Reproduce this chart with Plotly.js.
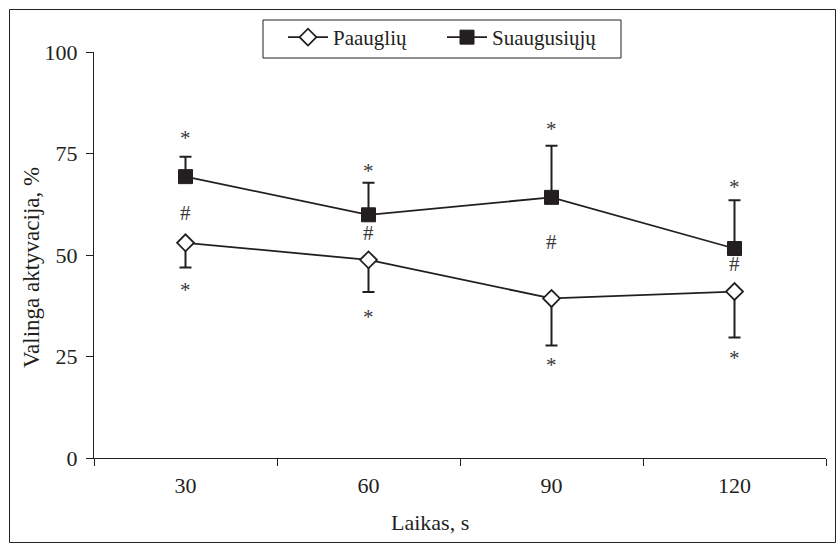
<!DOCTYPE html>
<html>
<head>
<meta charset="utf-8">
<script src="https://cdn.plot.ly/plotly-3.0.1.min.js"></script>
<style>html,body{margin:0;padding:0;background:#fff;}#chart{width:836px;height:543px;}</style>
</head>
<body>
<div id="chart"></div>
<script>
var categories = ['30', '60', '90', '120'];
var paaugliuValues = [53.0, 48.8, 39.3, 41.0];
var paaugliuErrMinus = [6.1, 7.9, 11.6, 11.3];
var suaugusiujuValues = [69.3, 59.9, 64.2, 51.6];
var suaugusiujuErrPlus = [4.9, 7.9, 12.7, 11.9];
var starTop = [80.1, 71.9, 82.3, 68.1];
var hashMid = [60.4, 55.3, 53.3, 47.8];
var starBottom = [42.6, 36.0, 24.1, 25.9];
var yTicks = [0, 25, 50, 75, 100];
var xTitle = 'Laikas, s';
var yTitle = 'Valinga aktyvacija, %';

var ink = '#231f20';
var fontFam = 'Liberation Serif, Times New Roman, serif';

var traces = [
  {
    x: categories, y: paaugliuValues, name: 'Paauglių', type: 'scatter', mode: 'lines+markers',
    line: {color: ink, width: 1.8},
    marker: {symbol: 'diamond', size: 13, color: '#ffffff', line: {color: ink, width: 1.8}},
    error_y: {type: 'data', symmetric: false, array: [0,0,0,0], arrayminus: paaugliuErrMinus, color: ink, thickness: 2, width: 6}
  },
  {
    x: categories, y: suaugusiujuValues, name: 'Suaugusiųjų', type: 'scatter', mode: 'lines+markers',
    line: {color: ink, width: 1.8},
    marker: {symbol: 'square', size: 14, color: ink, line: {color: ink, width: 1}},
    error_y: {type: 'data', symmetric: false, array: suaugusiujuErrPlus, arrayminus: [0,0,0,0], color: ink, thickness: 2, width: 6}
  }
];

var annotations = [];
function addMarks(vals, txt, shift) {
  for (var i = 0; i < categories.length; i++) {
    annotations.push({x: i, y: vals[i], xref: 'x', yref: 'y', text: txt, showarrow: false,
      font: {family: fontFam, size: 21, color: '#3a3a3a'}, yshift: shift});
  }
}
addMarks(starTop, '*', -5);
addMarks(hashMid, '#', 0);
addMarks(starBottom, '*', -5);

annotations.push({xref: 'paper', yref: 'paper', x: (430 - 94) / 732, y: (458 - 522) / 406,
  xanchor: 'center', yanchor: 'middle', text: xTitle, showarrow: false,
  font: {family: fontFam, size: 22, color: ink}});
annotations.push({xref: 'paper', yref: 'paper', x: (31 - 94) / 732, y: (458 - 268) / 406,
  xanchor: 'center', yanchor: 'middle', text: yTitle, textangle: -90, showarrow: false,
  font: {family: fontFam, size: 23, color: ink}});

var layout = {
  width: 836, height: 543,
  margin: {l: 94, r: 10, t: 52, b: 85},
  paper_bgcolor: '#ffffff', plot_bgcolor: '#ffffff',
  font: {family: fontFam, size: 21, color: ink},
  showlegend: true,
  legend: {
    orientation: 'h', x: (283 - 94) / 732, xanchor: 'left', y: (458 - 17) / 406, yanchor: 'top',
    borderwidth: 0, bgcolor: 'rgba(0,0,0,0)',
    font: {family: fontFam, size: 21, color: ink},
    itemwidth: 40, entrywidth: 104, entrywidthmode: 'pixels'
  },
  xaxis: {
    type: 'category', range: [-0.5, 3.5], tickson: 'boundaries',
    ticks: 'outside', ticklen: 7, tickcolor: ink, tickwidth: 1,
    showline: true, linecolor: ink, linewidth: 1, showgrid: false, zeroline: false,
    ticklabelstandoff: 8,
    tickfont: {family: fontFam, size: 22, color: ink}
  },
  yaxis: {
    range: [0, 100], tickvals: yTicks, ticktext: yTicks.map(String),
    ticks: 'outside', ticklen: 7, tickcolor: ink, tickwidth: 1,
    showline: true, linecolor: ink, linewidth: 1, showgrid: false, zeroline: false,
    ticklabelstandoff: 4,
    tickfont: {family: fontFam, size: 22, color: ink}
  },
  annotations: annotations,
  shapes: [
    {type: 'rect', xref: 'paper', yref: 'paper', x0: -0.1154, x1: 1.0130, y0: -0.2082, y1: 1.1047,
     line: {color: ink, width: 1}, fillcolor: 'rgba(0,0,0,0)', layer: 'below'},
    {type: 'rect', xref: 'paper', yref: 'paper', x0: (263 - 94) / 732, x1: (621 - 94) / 732,
     y0: (458 - 58) / 406, y1: (458 - 20) / 406,
     line: {color: ink, width: 1}, fillcolor: 'rgba(0,0,0,0)', layer: 'below'}
  ]
};

Plotly.newPlot('chart', traces, layout, {displayModeBar: false, staticPlot: true});
</script>
</body>
</html>
